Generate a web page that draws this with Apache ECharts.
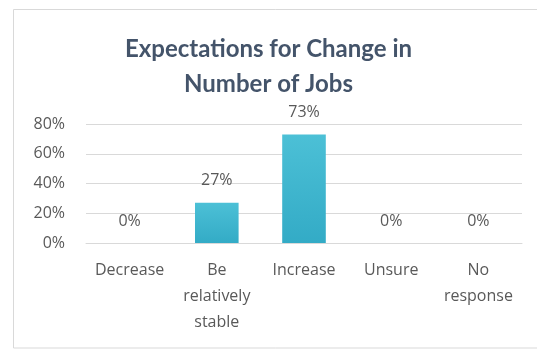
<!DOCTYPE html>
<html>
<head>
<meta charset="utf-8">
<script src="https://cdn.jsdelivr.net/npm/echarts@6/dist/echarts.min.js"></script>
<style>
html,body{margin:0;padding:0;background:#fff;}
#chart{width:537px;height:349px;}
</style>
</head>
<body>
<div id="chart"></div>
<script>
// Survey responses: expected change in number of jobs
const categories = ['Decrease', 'Be\nrelatively\nstable', 'Increase', 'Unsure', 'No\nresponse'];
const shares = [0, 27, 73, 0, 0];
const yTicks = [0, 20, 40, 60, 80];

const chart = echarts.init(document.getElementById('chart'));
const font = '"Open Sans", "DejaVu Sans", sans-serif';

chart.setOption({
  animation: false,
  backgroundColor: '#fff',
  graphic: [{
    type: 'rect',
    shape: { x: 13.5, y: 9.5, width: 540, height: 338.5 },
    style: { fill: 'none', stroke: '#d9d9d9', lineWidth: 1 },
    silent: true
  }],
  title: {
    text: 'Expectations for Change in\nNumber of Jobs',
    left: 'center',
    top: 27,
    textStyle: {
      fontFamily: 'Lato, "Open Sans", sans-serif',
      fontWeight: 'bold',
      fontSize: 24,
      color: '#44546a',
      lineHeight: 35
    }
  },
  grid: { left: 86, right: 15, top: 124, bottom: 106, containLabel: false },
  xAxis: {
    type: 'category',
    data: categories,
    axisLine: { show: true, lineStyle: { color: '#d9d9d9' } },
    axisTick: { show: false },
    axisLabel: {
      interval: 0,
      color: '#595959',
      fontFamily: font,
      fontSize: 16,
      lineHeight: 26,
      margin: 14
    }
  },
  yAxis: {
    type: 'value',
    min: 0,
    max: 80,
    interval: 20,
    axisLine: { show: false },
    axisTick: { show: false },
    splitLine: { lineStyle: { color: '#d9d9d9' } },
    axisLabel: {
      color: '#595959',
      fontFamily: font,
      fontSize: 16,
      margin: 21,
      formatter: v => (yTicks.includes(v) ? v + '%' : '')
    }
  },
  series: [{
    type: 'bar',
    data: shares,
    barWidth: '50%',
    itemStyle: {
      color: new echarts.graphic.LinearGradient(0, 0, 0, 1, [
        { offset: 0, color: '#4cc0d6' },
        { offset: 1, color: '#33abc6' }
      ]),
      borderWidth: 0
    },
    label: {
      show: true,
      position: 'top',
      distance: 14,
      color: '#595959',
      fontFamily: font,
      fontSize: 16,
      formatter: p => p.value + '%'
    }
  }]
});
</script>
</body>
</html>
